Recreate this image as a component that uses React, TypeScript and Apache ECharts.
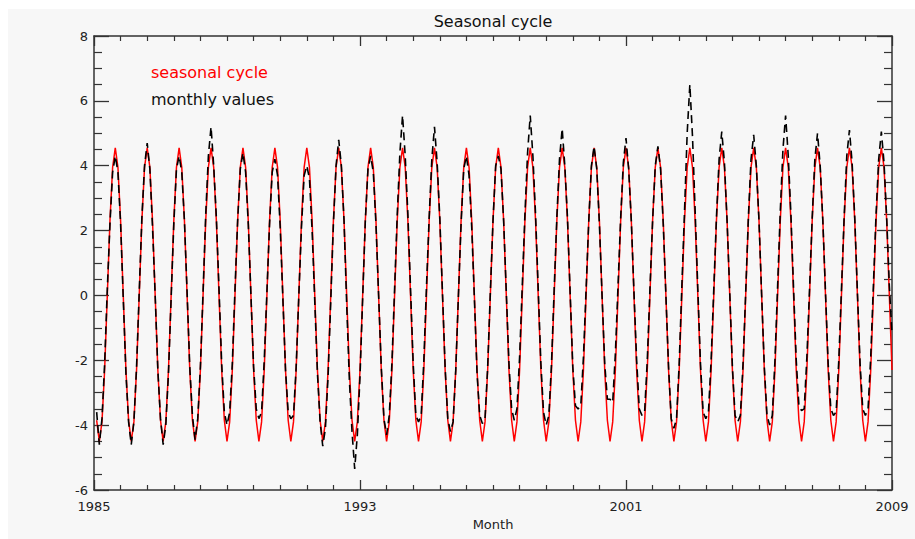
import React, { useEffect, useRef } from "react";
import * as echarts from "echarts";

// Tick labels placed at month index 0, 100, 200, 300
const xTickLabels = ["1985", "1993", "2001", "2009"];

// Climatological seasonal cycle (Jan..Dec)
const seasonalCycle = [-3.85, -4.5, -3.9, -2.3, 0.0, 2.3, 3.95, 4.55, 3.95, 2.3, 0.0, -2.3];

// Monthly values, one row per year 1985..2009 (Jan..Dec)
const monthlyValues: number[][] = [
  [-3.6, -4.6, -3.8, -2.1, 0.2, 2.2, 3.8, 4.3, 3.8, 2.2, -0.1, -2.4],
  [-3.9, -4.6, -3.9, -2.2, 0.1, 2.4, 4.0, 4.7, 3.9, 2.1, 0.0, -2.3],
  [-3.8, -4.6, -4.0, -2.4, -0.1, 2.2, 3.9, 4.3, 3.8, 2.3, 0.1, -2.2],
  [-3.7, -4.45, -3.8, -2.2, 0.1, 2.5, 4.3, 5.2, 4.0, 2.4, 0.2, -2.1],
  [-3.6, -4.0, -3.6, -2.1, 0.2, 2.3, 3.9, 4.4, 3.8, 2.2, 0.0, -2.2],
  [-3.5, -3.8, -3.6, -2.0, 0.1, 2.2, 3.8, 4.2, 3.7, 2.1, -0.1, -2.3],
  [-3.6, -3.8, -3.7, -2.2, 0.0, 2.1, 3.7, 4.0, 3.6, 2.0, -0.2, -2.4],
  [-3.9, -4.65, -4.1, -2.5, -0.2, 2.2, 4.0, 4.8, 4.0, 2.3, -0.3, -2.6],
  [-4.2, -5.35, -4.3, -2.5, -0.1, 2.3, 3.9, 4.3, 3.8, 2.2, 0.0, -2.2],
  [-3.8, -4.3, -3.7, -2.1, 0.2, 2.5, 4.4, 5.55, 4.3, 2.5, 0.2, -2.1],
  [-3.7, -3.9, -3.7, -2.0, 0.3, 2.4, 4.2, 5.2, 4.1, 2.4, 0.1, -2.2],
  [-3.8, -4.2, -3.9, -2.3, 0.0, 2.2, 3.9, 4.3, 3.7, 2.1, -0.1, -2.4],
  [-3.7, -3.95, -3.8, -2.2, 0.1, 2.3, 4.0, 4.3, 3.9, 2.3, 0.1, -2.1],
  [-3.5, -3.85, -3.5, -1.9, 0.3, 2.5, 4.4, 5.55, 4.3, 2.5, 0.2, -2.1],
  [-3.6, -4.0, -3.7, -2.1, 0.2, 2.4, 4.2, 5.15, 4.0, 2.4, 0.1, -2.2],
  [-3.4, -3.5, -3.4, -1.9, 0.2, 2.3, 4.0, 4.6, 3.9, 2.2, 0.0, -2.1],
  [-3.2, -3.2, -3.3, -1.8, 0.3, 2.4, 4.1, 4.85, 3.9, 2.3, 0.1, -2.0],
  [-3.5, -3.7, -3.6, -2.0, 0.2, 2.3, 4.0, 4.6, 3.9, 2.2, 0.0, -2.2],
  [-3.8, -4.1, -3.8, -2.1, 0.3, 2.6, 5.0, 6.5, 4.9, 2.6, 0.2, -2.1],
  [-3.6, -3.8, -3.6, -2.0, 0.2, 2.4, 4.2, 5.05, 4.1, 2.3, 0.1, -2.2],
  [-3.7, -3.9, -3.7, -2.1, 0.1, 2.4, 4.2, 4.95, 4.0, 2.3, 0.0, -2.2],
  [-3.7, -4.0, -3.7, -2.0, 0.3, 2.6, 4.5, 5.55, 4.3, 2.5, 0.2, -2.0],
  [-3.4, -3.55, -3.5, -1.9, 0.2, 2.4, 4.2, 5.0, 4.0, 2.3, 0.1, -2.1],
  [-3.5, -3.7, -3.6, -2.0, 0.2, 2.4, 4.3, 5.1, 4.1, 2.4, 0.1, -2.1],
  [-3.5, -3.7, -3.5, -1.9, 0.3, 2.5, 4.2, 5.05, 4.1, 2.4, 0.3, -1.2],
];

const titleText = "Seasonal cycle";
const xAxisName = "Month";
const legendSeasonal = "seasonal cycle";
const legendMonthly = "monthly values";

const AXIS = "#333333";
const FONT = '"DejaVu Sans", sans-serif';

export default function App() {
  const ref = useRef<HTMLDivElement>(null);

  useEffect(() => {
    if (!ref.current) return;
    const chart = echarts.init(ref.current, null, { renderer: "svg" });

    const flatMonthly = monthlyValues.flat();
    const seasonalData = flatMonthly.map((_, m) => [m + 1, seasonalCycle[m % 12]]);
    const monthlyData = flatMonthly.map((v, m) => [m + 1, v]);

    const xBase = (pos: "bottom" | "top", labels: boolean) => ({
      type: "value",
      position: pos,
      min: 0,
      max: 300,
      interval: 100,
      axisLine: { show: true, onZero: false, lineStyle: { color: AXIS, width: 1.5 } },
      axisTick: { show: true, inside: true, length: 10, lineStyle: { color: AXIS, width: 1.3 } },
      minorTick: { show: true, splitNumber: 10, length: 5, lineStyle: { color: AXIS, width: 1.2 } },
      axisLabel: {
        show: labels,
        margin: 10,
        color: "#222",
        fontSize: 13,
        fontFamily: FONT,
        formatter: (v: number) => xTickLabels[Math.round(v / 100)] ?? "",
      },
      splitLine: { show: false },
      minorSplitLine: { show: false },
    });

    const yBase = (pos: "left" | "right", labels: boolean) => ({
      type: "value",
      position: pos,
      min: -6,
      max: 8,
      interval: 2,
      axisLine: { show: true, onZero: false, lineStyle: { color: AXIS, width: 1.5 } },
      axisTick: { show: true, inside: true, length: 15, lineStyle: { color: AXIS, width: 1.3 } },
      minorTick: { show: true, splitNumber: 4, length: 8, lineStyle: { color: AXIS, width: 1.2 } },
      axisLabel: {
        show: labels,
        margin: 6,
        color: "#222",
        fontSize: 13,
        fontFamily: FONT,
      },
      splitLine: { show: false },
      minorSplitLine: { show: false },
    });

    chart.setOption({
      animation: false,
      backgroundColor: "#f7f7f7",
      grid: { left: 86, right: 23, top: 27, bottom: 49, containLabel: false },
      xAxis: [xBase("bottom", true), xBase("top", false)],
      yAxis: [yBase("left", true), yBase("right", false)],
      graphic: [
        {
          type: "text",
          x: 485,
          y: 12,
          style: {
            text: titleText,
            fill: "#111",
            font: `16px ${FONT}`,
            align: "center",
            verticalAlign: "middle",
            textAlign: "center",
            textVerticalAlign: "middle",
          },
        },
        {
          type: "text",
          x: 143,
          y: 63,
          style: {
            text: legendSeasonal,
            fill: "#ff0000",
            font: `16px ${FONT}`,
            align: "left",
            verticalAlign: "middle",
            textAlign: "left",
            textVerticalAlign: "middle",
          },
        },
        {
          type: "text",
          x: 143,
          y: 90,
          style: {
            text: legendMonthly,
            fill: "#111",
            font: `16px ${FONT}`,
            align: "left",
            verticalAlign: "middle",
            textAlign: "left",
            textVerticalAlign: "middle",
          },
        },
        {
          type: "text",
          x: 485,
          y: 515,
          style: {
            text: xAxisName,
            fill: "#222",
            font: `13px ${FONT}`,
            align: "center",
            verticalAlign: "middle",
            textAlign: "center",
            textVerticalAlign: "middle",
          },
        },
      ],
      series: [
        {
          name: legendSeasonal,
          type: "line",
          xAxisIndex: 0,
          yAxisIndex: 0,
          data: seasonalData,
          showSymbol: false,
          symbol: "none",
          lineStyle: { color: "#ff0000", width: 1.5 },
          z: 2,
        },
        {
          name: legendMonthly,
          type: "line",
          xAxisIndex: 0,
          yAxisIndex: 0,
          data: monthlyData,
          showSymbol: false,
          symbol: "none",
          lineStyle: { color: "#000000", width: 1.6, type: [8, 5] },
          z: 3,
        },
      ],
    });

    return () => chart.dispose();
  }, []);

  return (
    <div
      ref={ref}
      style={{ position: "absolute", left: 8, top: 9, width: 907, height: 530, background: "#f7f7f7" }}
    />
  );
}
